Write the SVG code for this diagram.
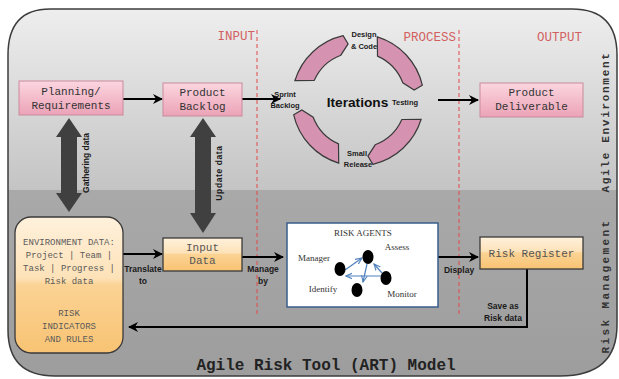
<svg xmlns="http://www.w3.org/2000/svg" width="619" height="379" viewBox="0 0 619 379">
<defs>
  <linearGradient id="gTop" x1="0" y1="0" x2="0" y2="1">
    <stop offset="0" stop-color="#f0f0f0"/>
    <stop offset="1" stop-color="#c4c4c4"/>
  </linearGradient>
  <linearGradient id="gBot" x1="0" y1="0" x2="0" y2="1">
    <stop offset="0" stop-color="#a9a9a9"/>
    <stop offset="1" stop-color="#9d9d9d"/>
  </linearGradient>
  <linearGradient id="gPink" x1="0" y1="0" x2="0" y2="1">
    <stop offset="0" stop-color="#fbd6e0"/>
    <stop offset="0.5" stop-color="#f4bccb"/>
    <stop offset="1" stop-color="#eba3b7"/>
  </linearGradient>
  <linearGradient id="gOrange" x1="0" y1="0" x2="0" y2="1">
    <stop offset="0" stop-color="#fff1dc"/>
    <stop offset="0.45" stop-color="#fde2b8"/>
    <stop offset="0.5" stop-color="#fbd394"/>
    <stop offset="1" stop-color="#f8c373"/>
  </linearGradient>
  <clipPath id="frameClip">
    <path d="M50,9 L572,9 Q617,9 617,55 L617,325 Q617,376 560,376 L55,376 Q8,376 8,330 L8,55 Q8,9 50,9 Z"/>
  </clipPath>
  <marker id="ah" viewBox="0 0 10 10" refX="9" refY="5" markerWidth="5" markerHeight="5" orient="auto" markerUnits="strokeWidth">
    <path d="M0,0 L10,5 L0,10 L3,5 Z" fill="#000"/>
  </marker>
  <marker id="ahb" viewBox="0 0 10 10" refX="9" refY="5" markerWidth="6" markerHeight="6" orient="auto" markerUnits="strokeWidth">
    <path d="M0,1 L9,5 L0,9" fill="none" stroke="#4f81bd" stroke-width="1.5"/>
  </marker>
  <path id="seg" d="M-63.12,-19.30 A66,66 0 0 1 -14.85,-64.31 L-9.90,-56.13 L-17.20,-44.81 A48,48 0 0 0 -43.85,-19.52 Z"/>
  <style>
    .pink { fill: url(#gPink); stroke: #c98a9b; stroke-width: 1; }
    .orange { fill: url(#gOrange); stroke: #3a3a3a; stroke-width: 1.3; }
    .ntext { font-family: "Liberation Mono", "Courier New", monospace; font-size: 11px; fill: #333; text-anchor: middle; }
    .otext { font-family: "Liberation Mono", "Courier New", monospace; font-size: 11px; fill: #555; text-anchor: middle; }
    .etext { font-family: "Liberation Mono", "Courier New", monospace; font-size: 9px; fill: #5a5a5a; text-anchor: middle; }
    .phase { font-family: "Liberation Mono", "Courier New", monospace; font-size: 12.5px; fill: #d25f5f; }
    .lbl { font-family: "Liberation Sans", Arial, sans-serif; font-size: 8.5px; font-weight: bold; fill: #1a1a1a; text-anchor: middle; }
    .clbl { font-family: "Liberation Sans", Arial, sans-serif; font-size: 7.5px; font-weight: bold; fill: #1a1a1a; text-anchor: middle; }
    .agent { font-family: "Liberation Serif", "Times New Roman", serif; font-size: 9px; fill: #333; text-anchor: middle; }
    .side { font-family: "Liberation Mono", "Courier New", monospace; font-size: 11px; font-weight: bold; fill: #333; text-anchor: middle; }
    .conn { stroke: #000; stroke-width: 2; fill: none; }
    .dash { stroke: #e04848; stroke-width: 1; stroke-dasharray: 4 3; fill: none; }
    .seg { fill: #d693b1; stroke: #3a3a3a; stroke-width: 1.2; }
    .garrow { fill: #404040; }
    .barrow { stroke: #4f81bd; stroke-width: 1.2; fill: none; }
  </style>
</defs>

<rect width="619" height="379" fill="#ffffff"/>

<!-- frame -->
<g id="frame">
  <g clip-path="url(#frameClip)">
    <rect x="0" y="0" width="619" height="190" fill="url(#gTop)"/>
    <rect x="0" y="190" width="619" height="189" fill="url(#gBot)"/>
  </g>
  <path d="M50,9 L572,9 Q617,9 617,55 L617,325 Q617,376 560,376 L55,376 Q8,376 8,330 L8,55 Q8,9 50,9 Z" fill="none" stroke="#3c3c3c" stroke-width="1.5"/>
</g>

<!-- phase separators & labels -->
<g id="phases">
  <line class="dash" x1="257" y1="30" x2="257" y2="317"/>
  <line class="dash" x1="459" y1="30" x2="459" y2="317"/>
  <text class="phase" x="255" y="40" text-anchor="end">INPUT</text>
  <text class="phase" x="456" y="41" text-anchor="end">PROCESS</text>
  <text class="phase" x="582" y="41" text-anchor="end">OUTPUT</text>
</g>

<!-- side labels -->
<g id="sideLabels">
  <text class="side" transform="translate(609,122) rotate(-90)" letter-spacing="1.7">Agile Environment</text>
  <text class="side" transform="translate(609,286) rotate(-90)" letter-spacing="2.4">Risk Management</text>
</g>

<!-- connectors -->
<g id="connectors">
  <line class="conn" x1="123" y1="99" x2="162" y2="99" marker-end="url(#ah)"/>
  <line class="conn" x1="242" y1="99" x2="280" y2="99" marker-end="url(#ah)"/>
  <line class="conn" x1="438" y1="100" x2="478" y2="100" marker-end="url(#ah)"/>
  <line class="conn" x1="123" y1="254" x2="162" y2="254" marker-end="url(#ah)"/>
  <line class="conn" x1="242" y1="257" x2="283" y2="257" marker-end="url(#ah)"/>
  <line class="conn" x1="438" y1="257" x2="478" y2="257" marker-end="url(#ah)"/>
  <path class="conn" d="M527,269 L527,327 L129,327" stroke-width="2.5" marker-end="url(#ah)"/>
  <!-- gray double arrows -->
  <path class="garrow" d="M69,118 L82,137 L77,137 L77,193 L82,193 L69,212 L56,193 L61,193 L61,137 L56,137 Z"/>
  <path class="garrow" d="M203,118 L216,137 L211,137 L211,213 L216,213 L203,233 L190,213 L195,213 L195,137 L190,137 Z"/>
  <!-- connector labels -->
  <text class="lbl" transform="translate(89,163) rotate(-90)">Gathering data</text>
  <text class="lbl" transform="translate(222,173) rotate(-90)" letter-spacing="0.6">Update data</text>
  <text class="lbl" x="143" y="272">Translate</text>
  <text class="lbl" x="143" y="284">to</text>
  <text class="lbl" x="263" y="272">Manage</text>
  <text class="lbl" x="263" y="284">by</text>
  <text class="lbl" x="459" y="273">Display</text>
  <text class="lbl" x="503" y="309">Save as</text>
  <text class="lbl" x="503" y="321">Risk data</text>
</g>

<!-- nodes -->
<g id="planning">
  <rect class="pink" x="19" y="81" width="104" height="34"/>
  <text class="ntext" x="71" y="95">Planning/</text>
  <text class="ntext" x="71" y="109">Requirements</text>
</g>

<g id="productBacklog">
  <rect class="pink" x="163" y="83" width="79" height="33"/>
  <text class="ntext" x="202.5" y="96">Product</text>
  <text class="ntext" x="202.5" y="110">Backlog</text>
</g>

<g id="iterations">
  <use href="#seg" class="seg" transform="translate(358,100)"/>
  <use href="#seg" class="seg" transform="translate(358,100) rotate(90)"/>
  <use href="#seg" class="seg" transform="translate(358,100) rotate(180)"/>
  <use href="#seg" class="seg" transform="translate(358,100) rotate(270)"/>
  <text x="357.5" y="107" font-family="'Liberation Sans', Arial, sans-serif" font-size="13.7" font-weight="bold" fill="#111" text-anchor="middle">Iterations</text>
  <text class="clbl" x="364" y="37">Design</text>
  <text class="clbl" x="364" y="48.5">&amp; Code</text>
  <text class="clbl" x="285" y="97" text-anchor="start">Sprint</text>
  <text class="clbl" x="285" y="108" text-anchor="start">Backlog</text>
  <text class="clbl" x="405" y="105" text-anchor="start">Testing</text>
  <text class="clbl" x="357" y="156">Small</text>
  <text class="clbl" x="358" y="167">Release</text>
</g>

<g id="productDeliverable">
  <rect class="pink" x="480" y="83" width="103" height="34"/>
  <text class="ntext" x="531.5" y="96">Product</text>
  <text class="ntext" x="531.5" y="110">Deliverable</text>
</g>

<g id="environmentData">
  <rect class="orange" x="15" y="217" width="108" height="136" rx="16" ry="16"/>
  <text class="etext" x="69" y="245">ENVIRONMENT DATA:</text>
  <text class="etext" x="69" y="258">Project | Team |</text>
  <text class="etext" x="69" y="271">Task | Progress |</text>
  <text class="etext" x="69" y="284">Risk data</text>
  <text class="etext" x="69" y="316">RISK</text>
  <text class="etext" x="69" y="329">INDICATORS</text>
  <text class="etext" x="69" y="342">AND RULES</text>
</g>

<g id="inputData">
  <rect class="orange" x="163" y="238" width="79" height="33"/>
  <text class="otext" x="202.5" y="251">Input</text>
  <text class="otext" x="202.5" y="264">Data</text>
</g>

<g id="riskAgents">
  <rect x="287" y="223" width="151" height="84" fill="#ffffff" stroke="#385d8a" stroke-width="1.5"/>
  <text class="agent" x="363" y="236" font-size="10">RISK AGENTS</text>
  <text class="agent" x="397" y="250">Assess</text>
  <text class="agent" x="314" y="261">Manager</text>
  <text class="agent" x="323" y="292">Identify</text>
  <text class="agent" x="402" y="297">Monitor</text>
  <line class="barrow" x1="345" y1="270" x2="362" y2="258" marker-end="url(#ahb)"/>
  <line class="barrow" x1="367" y1="264" x2="363" y2="282" marker-end="url(#ahb)"/>
  <line class="barrow" x1="382" y1="273" x2="374" y2="264" marker-end="url(#ahb)"/>
  <line class="barrow" x1="381" y1="276" x2="346" y2="276" marker-end="url(#ahb)"/>
  <ellipse cx="340" cy="269" rx="5.5" ry="7" fill="#000"/>
  <ellipse cx="368" cy="257" rx="5.5" ry="7" fill="#000"/>
  <ellipse cx="386" cy="278" rx="5.5" ry="7" fill="#000"/>
  <ellipse cx="357" cy="290" rx="5.5" ry="7" fill="#000"/>
</g>

<g id="riskRegister">
  <rect class="orange" x="480" y="237" width="103" height="32"/>
  <text class="otext" x="531.5" y="257">Risk Register</text>
</g>

<g id="title">
  <text x="326" y="370" font-family="'Liberation Mono', 'Courier New', monospace" font-size="16" font-weight="bold" fill="#222" text-anchor="middle">Agile Risk Tool (ART) Model</text>
</g>
</svg>
